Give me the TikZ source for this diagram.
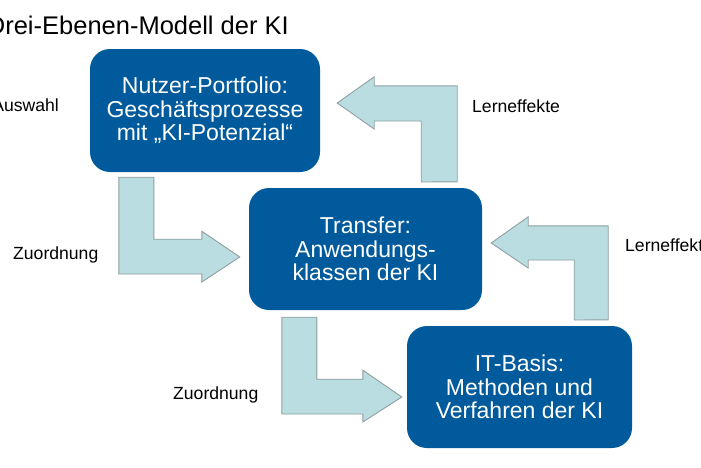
\documentclass[tikz,border=0pt]{standalone}
\usepackage{fontspec}
\setmainfont{Liberation Sans}
\usetikzlibrary{calc,positioning}
\definecolor{ebeneblue}{HTML}{005A9C}
\definecolor{pfeilfill}{HTML}{B9DDE0}
\definecolor{pfeilline}{HTML}{8F9FA2}

\begin{document}
\begin{tikzpicture}[x=1pt, y=-1pt,
    ebene/.style={rectangle, rounded corners=20pt, fill=ebeneblue, text=white,
        font=\fontsize{23}{23.5}\selectfont, align=center, inner sep=0pt},
    blockarr/.style={fill=pfeilfill, draw=pfeilline, line width=0.9pt, line join=miter},
    lbl/.style={font=\fontsize{17.6}{20}\selectfont, inner sep=0pt}
]
\useasboundingbox (0,0) rectangle (701,467);
\node[anchor=base east, inner sep=0pt, font=\fontsize{25.5}{28}\selectfont] (titel) at (289,34) {Drei-Ebenen-Modell der KI};
% die drei Ebenen
\node[ebene, minimum width=230pt, minimum height=123pt] (portfolio) at (205,110.5) {Nutzer-Portfolio:\\Geschäftsprozesse\\mit „KI-Potenzial“};
\node[ebene, minimum width=233pt, minimum height=122pt] (transfer) at (365.5,249) {Transfer:\\Anwendungs-\\klassen der KI};
\node[ebene, minimum width=225pt, minimum height=122pt] (itbasis) at (519.5,387) {IT-Basis:\\Methoden und\\Verfahren der KI};
% Zuordnung nach unten
\draw[blockarr] ($(portfolio.south west)+(29,5)$) -- ++(35,0) -- ++(0,62) -- ++(48,0) -- ++(0,-8)
    -- ($(transfer.west)+(-9,8)$) -- ++(-38,25) -- ++(0,-8) -- ++(-83,0) -- cycle;
\draw[blockarr] ($(transfer.south west)+(33,7)$) -- ++(35,0) -- ++(0,62) -- ++(46,0) -- ++(0,-9)
    -- ($(itbasis.west)+(-5,10)$) -- ++(-39,25) -- ++(0,-8) -- ++(-81,0) -- cycle;
% Lerneffekte nach oben
\draw[blockarr] ($(transfer.north east)+(-25,-6)$) -- ++(0,-96) -- ++(-83,0) -- ++(0,-9)
    -- ($(portfolio.east)+(17,-7.5)$) -- ++(37,26) -- ++(0,-8) -- ++(47,0) -- ++(0,61) -- cycle;
\draw[blockarr] ($(itbasis.north east)+(-24,-6)$) -- ++(0,-94) -- ++(-80,0) -- ++(0,-9)
    -- ($(transfer.east)+(9,-6)$) -- ++(37,25) -- ++(0,-8) -- ++(46,0) -- ++(0,60) -- cycle;
% Beschriftungen
\node[lbl, anchor=base east] (auswahl) at (59,111) {Auswahl};
\node[lbl, anchor=base west] (zuord1) at (13,259) {Zuordnung};
\node[lbl, anchor=base west] (zuord2) at (173,399) {Zuordnung};
\node[lbl, anchor=base west] (lern1) at (472,112) {Lerneffekte};
\node[lbl, anchor=base west] (lern2) at (625,251) {Lerneffekte};
\end{tikzpicture}
\end{document}
